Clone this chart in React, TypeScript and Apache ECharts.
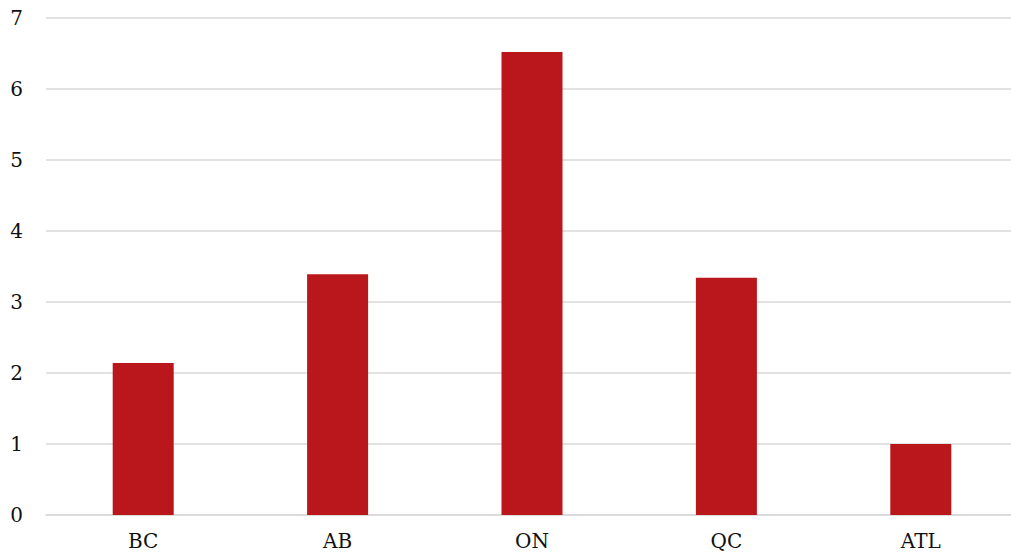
import React, { useEffect, useRef } from "react";
import * as echarts from "echarts";

const categories = ["BC", "AB", "ON", "QC", "ATL"];
const values = [2.14, 3.39, 6.52, 3.34, 1.0];
const yTicks = [0, 1, 2, 3, 4, 5, 6, 7];

export default function App() {
  const ref = useRef<HTMLDivElement>(null);
  useEffect(() => {
    document.body.style.margin = "0";
    document.body.style.overflow = "hidden";
    const chart = echarts.init(ref.current!, undefined, { renderer: "svg" });
    const font = "DejaVu Serif";
    chart.setOption({
      animation: false,
      textStyle: { fontFamily: font },
      grid: { left: 46, right: 0, top: 18, bottom: 39, containLabel: false },
      xAxis: {
        type: "category",
        data: categories,
        axisTick: { show: false },
        axisLine: { lineStyle: { color: "#d9d9d9", width: 1.5 } },
        axisLabel: { color: "#111", fontSize: 20, fontFamily: font, margin: 16, lineHeight: 20 },
      },
      yAxis: {
        type: "value",
        min: yTicks[0],
        max: yTicks[yTicks.length - 1],
        interval: 1,
        axisLine: { show: false },
        axisTick: { show: false },
        splitLine: { lineStyle: { color: "#d9d9d9", width: 1.5 } },
        axisLabel: { color: "#111", fontSize: 20, fontFamily: font, margin: 23 },
      },
      series: [
        {
          type: "bar",
          data: values,
          barWidth: 61,
          itemStyle: { color: "#BA171C" },
        },
      ],
    });
    return () => chart.dispose();
  }, []);
  return <div ref={ref} style={{ position: "absolute", left: 0, top: 0, width: 1018, height: 554 }} />;
}
